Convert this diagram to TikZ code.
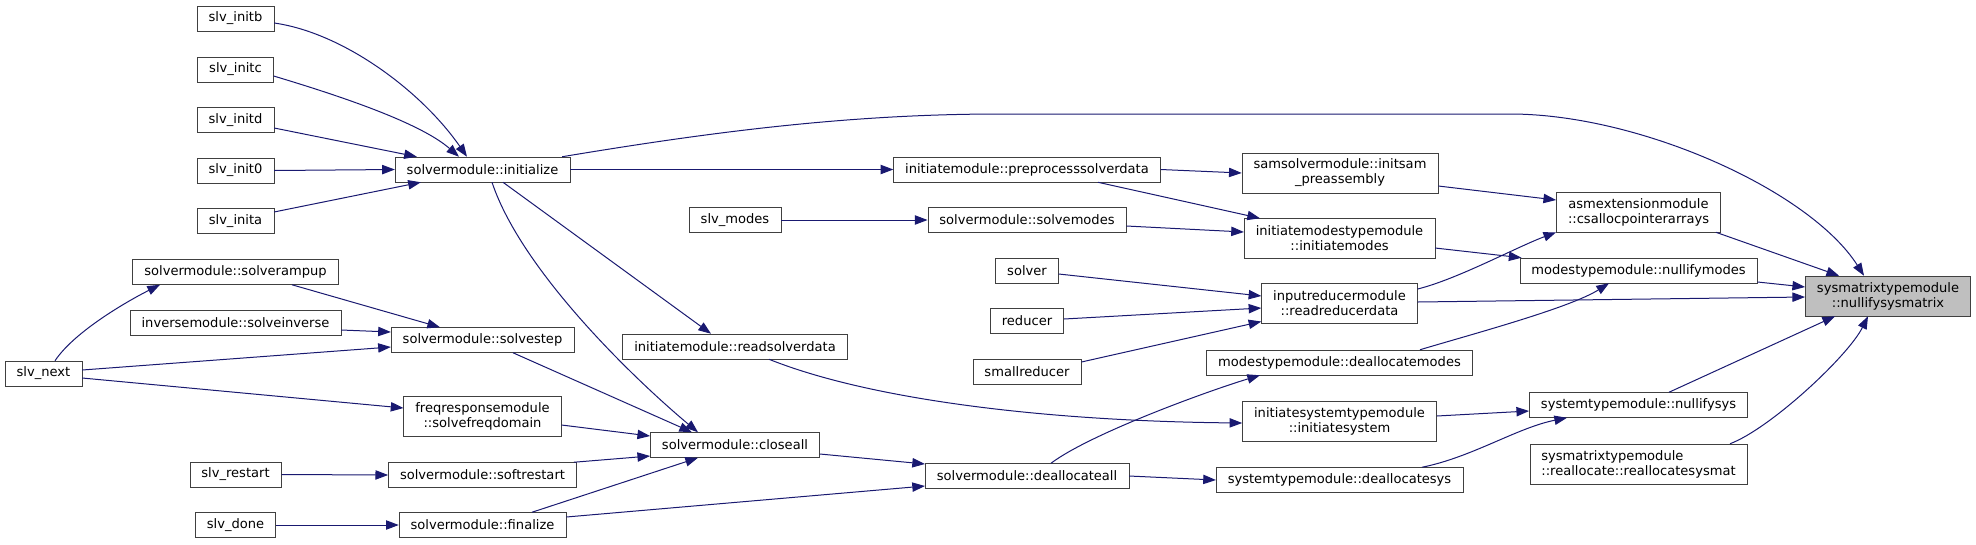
\documentclass[tikz,border=0pt]{standalone}
\usepackage{fontspec}
\setmainfont{DejaVu Sans}
\usetikzlibrary{arrows.meta,calc}
\definecolor{edgeblue}{HTML}{191970}
\definecolor{rootgray}{HTML}{BFBFBF}

\begin{document}
\begin{tikzpicture}[x=0.75pt, y=-0.75pt,
  fn/.style={draw=black!75, fill=white, font=\fontsize{9.8}{11.25}\selectfont, inner xsep=8.7pt, inner ysep=0pt, minimum height=18.75pt, align=center},
  fn2/.style={fn, minimum height=30pt},
  rootfn/.style={fn2, fill=rootgray},
  arr/.style={-{Triangle[length=9.5pt,width=7pt]}, edgeblue, line width=0.75pt}
]
\useasboundingbox (0,0) rectangle (1976,544);

\node[fn] (initb) at (235.5,18.5)  {slv\_initb};
\node[fn] (initc) at (235.5,69.5)  {slv\_initc};
\node[fn] (initd) at (235.5,120)   {slv\_initd};
\node[fn] (init0) at (235.5,170.5) {slv\_init0};
\node[fn] (inita) at (235.5,221)   {slv\_inita};
\node[fn] (rampup) at (235.5,272)  {solvermodule::solverampup};
\node[fn] (solveinv) at (235.5,322.5) {inversemodule::solveinverse};
\node[fn] (restart) at (235.5,474.5) {slv\_restart};
\node[fn] (done) at (235.5,525)    {slv\_done};
\node[fn] (next) at (43.5,373.5)   {slv\_next};

\node[fn] (init) at (482.5,169.5)  {solvermodule::initialize};
\node[fn] (step) at (482.5,340)    {solvermodule::solvestep};
\node[fn2] (freq) at (482.5,416)   {freqresponsemodule\\::solvefreqdomain};
\node[fn] (soft) at (482.5,475)    {solvermodule::softrestart};
\node[fn] (fin) at (482.5,525)     {solvermodule::finalize};

\node[fn] (modes) at (735,220)     {slv\_modes};
\node[fn] (readsol) at (735,346.5) {initiatemodule::readsolverdata};
\node[fn] (close) at (735,445)     {solvermodule::closeall};

\node[fn] (prep) at (1027,169.5)   {initiatemodule::preprocesssolverdata};
\node[fn] (solvemodes) at (1027,220) {solvermodule::solvemodes};
\node[fn] (solver) at (1027,270.5) {solver};
\node[fn] (reducer) at (1027,321)  {reducer};
\node[fn] (smallred) at (1027,371.5) {smallreducer};
\node[fn] (dealloc) at (1027,476)  {solvermodule::deallocateall};

\node[fn2] (initsam) at (1340,173) {samsolvermodule::initsam\\\_preassembly};
\node[fn2] (initmodes) at (1339.5,238.5) {initiatemodestypemodule\\::initiatemodes};
\node[fn2] (readred) at (1339.5,303.5) {inputreducermodule\\::readreducerdata};
\node[fn] (deallocmodes) at (1339.5,362.5) {modestypemodule::deallocatemodes};
\node[fn2] (initsys) at (1339.5,421) {initiatesystemtypemodule\\::initiatesystem};
\node[fn] (deallocsys) at (1339.5,480) {systemtypemodule::deallocatesys};

\node[fn2] (csalloc) at (1638.5,212) {asmextensionmodule\\::csallocpointerarrays};
\node[fn] (nullmodes) at (1638.5,270.5) {modestypemodule::nullifymodes};
\node[fn] (nullsys) at (1638.5,405) {systemtypemodule::nullifysys};
\node[fn2, align=left] (realloc) at (1638.5,464) {sysmatrixtypemodule\\::reallocate::reallocatesysmat};

\node[rootfn] (root) at (1888,296) {sysmatrixtypemodule\\::nullifysysmatrix};

\coordinate (topa) at (1000,114);
\coordinate (topb) at (1510,114);

\draw[arr] ($(initb.east)+(0,4.5)$) .. controls +(70,10) and +(-45,-65) .. ($(init.north)+(-15.5,0)$);
\draw[arr] ($(initc.east)+(0,6.5)$) .. controls +(60,18) and +(-40,-35) .. ($(init.north)+(-23.5,0)$);
\draw[arr] ($(initd.east)+(0,8)$) -- ($(init.north west)+(22,0)$);
\draw[arr] (init0.east) -- (init.west);
\draw[arr] ($(inita.east)+(0,-9)$) -- ($(init.south west)+(26,0)$);
\draw[arr] ($(init.north east)+(-8,0)$) .. controls +(150,-25) and +(-150,0) .. (topa) -- (topb) .. controls +(130,0) and +(-54,-85) .. ($(root.north)+(-24,0)$);
\draw[arr] (init.east) -- (prep.west);
\draw[arr] ($(init.south)+(20.5,0)$) -- ($(readsol.north)+(-24,0)$);
\draw[arr] ($(init.south)+(9.5,0)$) .. controls +(30,90) and +(-60,-50) .. ($(close.north)+(-37,0)$);

\draw[arr] ($(rampup.south)+(56.5,0)$) -- ($(step.north)+(-42.5,0)$);
\draw[arr] ($(solveinv.east)+(0,7.5)$) -- ($(step.west)+(0,-8)$);
\draw[arr] ($(next.east)+(0,-3.5)$) -- ($(step.west)+(0,7)$);
\draw[arr] ($(next.north)+(11.5,0)$) .. controls +(20,-30) and +(-30,15) .. ($(rampup.south)+(-75.5,0)$);
\draw[arr] ($(next.east)+(0,4.5)$) -- ($(freq.west)+(0,-8)$);
\draw[arr] (restart.east) -- (soft.west);
\draw[arr] (done.east) -- (fin.west);

\draw[arr] ($(step.south)+(30.5,0)$) -- ($(close.north)+(-43,0)$);
\draw[arr] ($(freq.east)+(0,9)$) -- ($(close.west)+(0,-9)$);
\draw[arr] ($(soft.north east)+(-3,0)$) -- ($(close.west)+(0,11)$);
\draw[arr] ($(fin.north)+(49.5,0)$) -- ($(close.south)+(-37,0)$);
\draw[arr] ($(fin.east)+(0,-8)$) -- ($(dealloc.west)+(0,10)$);
\draw[arr] ($(close.east)+(0,9)$) -- ($(dealloc.west)+(0,-12)$);

\draw[arr] (modes.east) -- (solvemodes.west);
\draw[arr] ($(readsol.south)+(34,0)$) .. controls +(100,40) and +(-200,-2) .. ($(initsys.west)+(0,2)$);
\draw[arr] (dealloc.east) -- (deallocsys.west);
\draw[arr] ($(dealloc.north)+(24,0)$) .. controls +(40,-30) and +(-50,15) .. ($(deallocmodes.south)+(-79.5,0)$);

\draw[arr] (prep.east) -- (initsam.west);
\draw[arr] ($(prep.south)+(71,0)$) -- ($(initmodes.north)+(-79.5,0)$);
\draw[arr] ($(solvemodes.east)+(0,6)$) -- ($(initmodes.west)+(0,-6.5)$);
\draw[arr] ($(solver.east)+(0,3.5)$) -- ($(readred.west)+(0,-7.5)$);
\draw[arr] ($(reducer.east)+(0,-2)$) -- ($(readred.west)+(0,4.5)$);
\draw[arr] ($(smallred.east)+(0,-9.5)$) -- ($(readred.west)+(0,18)$);

\draw[arr] ($(initsam.east)+(0,13)$) -- ($(csalloc.west)+(0,-12)$);
\draw[arr] ($(initmodes.east)+(0,9.5)$) -- ($(nullmodes.north west)+(2,0)$);
\draw[arr] ($(readred.east)+(0,-14.5)$) .. controls +(40,-10) and +(-40,15) .. (csalloc.south west);
\draw[arr] ($(readred.east)+(0,-1.5)$) -- ($(root.west)+(0,1)$);
\draw[arr] ($(deallocmodes.north)+(80.5,0)$) .. controls +(50,-15) and +(-40,25) .. ($(nullmodes.south)+(-29.5,0)$);
\draw[arr] ($(initsys.east)+(0,-5)$) -- ($(nullsys.west)+(0,6)$);
\draw[arr] ($(deallocsys.north)+(82.5,0)$) .. controls +(50,-10) and +(-50,10) .. ($(nullsys.south)+(-71.5,0)$);

\draw[arr] ($(csalloc.south east)+(-5,0)$) -- ($(root.north west)+(34,0)$);
\draw[arr] ($(nullmodes.east)+(0,11.5)$) -- ($(root.west)+(0,-9)$);
\draw[arr] ($(nullsys.north)+(30.5,0)$) -- ($(root.south)+(-53,0)$);
\draw[arr] ($(realloc.north)+(91.5,0)$) .. controls +(40,-15) and +(-20,40) .. ($(root.south)+(-20,0)$);
\end{tikzpicture}
\end{document}
